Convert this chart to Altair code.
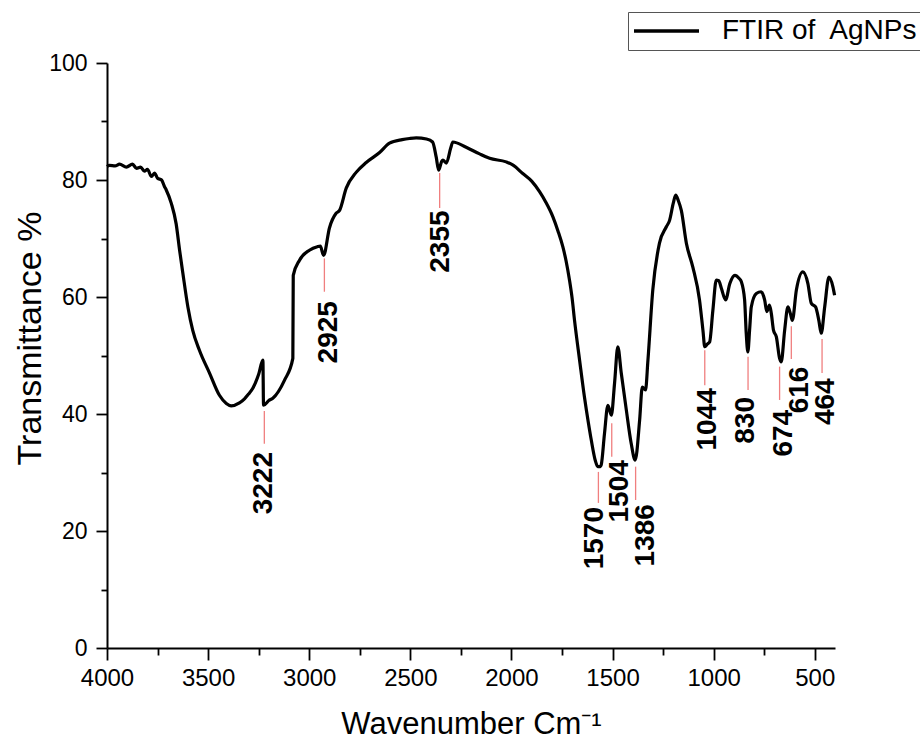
import altair as alt
import pandas as pd

# ---- spectrum ----
wavenumber = [4000, 3988, 3960, 3938, 3904, 3874, 3854, 3834, 3815, 3800, 3780, 3765, 3750, 3730,
              3716, 3707, 3682, 3658, 3641, 3625, 3600, 3576, 3543, 3493, 3444, 3410, 3386, 3345,
              3320, 3300, 3279, 3250, 3229, 3226, 3200, 3180, 3122, 3081, 3079, 3048, 2999, 2960,
              2945, 2929, 2900, 2867, 2850, 2817, 2768, 2718, 2652, 2603, 2540, 2504, 2471, 2420,
              2390, 2372, 2360, 2345, 2339, 2322, 2300, 2290, 2224, 2160, 2108, 2026, 1990, 1944,
              1900, 1861, 1830, 1795, 1770, 1746, 1730, 1713, 1700, 1688, 1663, 1639, 1620, 1605,
              1585, 1573, 1560, 1556, 1540, 1523, 1506, 1490, 1474, 1457, 1432, 1408, 1388, 1366,
              1353, 1337, 1325, 1301, 1268, 1234, 1218, 1200, 1188, 1175, 1160, 1135, 1103, 1070,
              1053, 1044, 1030, 1020, 1004, 987, 975, 962, 941, 920, 895, 875, 863, 847, 839, 831,
              822, 814, 789, 765, 748, 737, 724, 715, 704, 690, 674, 666, 649, 633, 621, 611, 591,
              559, 534, 517, 496, 480, 468, 451, 430, 410, 402]
transmittance = [82.3, 82.5, 82.4, 82.7, 82.2, 82.7, 82.0, 82.2, 81.5, 81.8, 80.6, 81.2, 80.3, 80.0,
                 78.9, 78.3, 76.0, 72.5, 68.0, 64.1, 58.3, 54.3, 50.9, 47.0, 43.2, 41.8, 41.4, 41.9,
                 42.6, 43.4, 44.4, 46.8, 49.2, 41.5, 42.3, 42.7, 45.8, 49.5, 63.7, 66.3, 68.0, 68.6,
                 68.7, 67.1, 71.8, 74.3, 74.8, 78.6, 81.3, 83.0, 84.7, 86.3, 86.9, 87.1, 87.2, 87.0,
                 86.5, 83.9, 81.7, 83.2, 83.4, 82.9, 85.5, 86.5, 85.6, 84.5, 83.7, 83.1, 82.5, 81.1,
                 79.8, 78.0, 76.2, 73.7, 71.3, 68.6, 66.2, 62.9, 59.8, 56.0, 49.2, 42.9, 38.6, 35.5,
                 32.0, 31.0, 31.0, 31.3, 36.6, 41.5, 39.8, 45.3, 51.5, 47.0, 40.7, 35.0, 32.1, 39.0,
                 44.6, 44.1, 49.2, 61.2, 69.2, 72.0, 73.1, 76.0, 77.4, 76.5, 74.8, 69.2, 65.1, 59.5,
                 54.3, 51.5, 52.0, 52.3, 57.7, 62.9, 62.8, 61.5, 59.5, 62.3, 63.7, 63.2, 62.6, 59.5, 53.8, 50.6,
                 54.5, 58.3, 60.6, 60.9, 59.5, 57.5, 58.6, 57.2, 54.3, 53.2, 49.5, 48.9, 54.3, 58.3, 57.2, 56.0, 61.2,
                 64.3, 62.3, 58.9, 58.3, 56.0, 53.8, 58.3, 63.4, 61.7, 60.3]
series_name = "FTIR of\u00a0 AgNPs"

# ---- peak annotations ----
peak_labels = ["3222", "2925", "2355", "1570", "1504", "1386", "1044", "830", "674", "616", "464"]
peak_wn = [3222, 2925, 2355, 1570, 1504, 1386, 1044, 830, 674, 616, 464]
marker_top = [40.5, 66.6, 81.2, 30.1, 38.4, 31.0, 50.9, 49.8, 48.1, 55.0, 52.8]
marker_bottom = [34.9, 60.9, 75.2, 24.8, 32.7, 25.3, 44.9, 44.1, 42.4, 49.4, 47.0]
label_wn = [3222, 2903, 2347, 1589, 1465, 1333, 1028, 839, 650, 575, 443]
label_top = [33.5, 59.3, 74.8, 24.1, 32.1, 24.6, 44.4, 42.9, 40.7, 48.1, 46.1]

# ---- axis ticks ----
x_tick_values = list(range(4000, 499, -250))
y_tick_values = list(range(0, 101, 10))

spectrum = pd.DataFrame({"wn": wavenumber, "T": transmittance, "series": series_name})
peaks = pd.DataFrame({"wn": peak_wn, "top": marker_top, "bottom": marker_bottom,
                      "lx": label_wn, "ly": label_top, "label": peak_labels})

FONT = "Liberation Sans"
xscale = alt.Scale(domain=[4000, 400], nice=False, zero=False)
yscale = alt.Scale(domain=[0, 100], nice=False, zero=False)

x_axis = alt.Axis(
    values=x_tick_values, format="d",
    labelExpr="datum.value % 500 == 0 ? datum.label : ''",
    tickSize={"condition": {"test": "datum.value % 500 == 0", "value": 12}, "value": 7},
    labelFlush=False, labelOverlap=False, grid=False,
    labelFont=FONT, labelFontSize=24, labelColor="black", labelPadding=6,
    domainColor="black", domainWidth=2, tickColor="black", tickWidth=1.8,
    title="Wavenumber Cm\u207b\u00b9", titleFont=FONT, titleFontSize=31, titleFontWeight="normal",
    titleColor="black", titleX=364, titleY=85, titleBaseline="alphabetic", titleAlign="center",
)
y_axis = alt.Axis(
    values=y_tick_values, format="d",
    labelExpr="datum.value % 20 == 0 ? datum.label : ''",
    tickSize={"condition": {"test": "datum.value % 20 == 0", "value": 11}, "value": 6},
    labelOverlap=False, grid=False,
    labelFont=FONT, labelFontSize=23, labelColor="black", labelPadding=9,
    domainColor="black", domainWidth=2, tickColor="black", tickWidth=1.8,
    title="Transmittance %", titleFont=FONT, titleFontSize=34, titleFontWeight="normal",
    titleColor="black", titleX=-67, titleY=275, titleBaseline="alphabetic", titleAlign="center",
    titleAngle=270,
)

line = alt.Chart(spectrum).mark_line(strokeWidth=3.2, strokeJoin="round",
                                     interpolate="monotone").encode(
    x=alt.X("wn:Q", scale=xscale, axis=x_axis),
    y=alt.Y("T:Q", scale=yscale, axis=y_axis),
    color=alt.Color("series:N",
                    scale=alt.Scale(domain=[series_name], range=["black"]),
                    legend=alt.Legend(orient="none", legendX=521, legendY=-51, title=None,
                                      symbolType="stroke", symbolSize=4225, symbolStrokeWidth=3.5,
                                      symbolStrokeColor="black", clipHeight=30,
                                      labelFont=FONT, labelFontSize=28, labelColor="black",
                                      labelLimit=400, labelOffset=21,
                                      strokeColor="#555555", padding=4)),
)

rules = alt.Chart(peaks).mark_rule(color="#f07f7f", strokeWidth=1.3).encode(
    x=alt.X("wn:Q", scale=xscale),
    y=alt.Y("top:Q", scale=yscale),
    y2="bottom:Q",
)

labels = alt.Chart(peaks).mark_text(
    angle=270, align="right", baseline="middle", font=FONT, fontSize=28,
    fontWeight="bold", color="black",
).encode(
    x=alt.X("lx:Q", scale=xscale),
    y=alt.Y("ly:Q", scale=yscale),
    text="label:N",
)

chart = alt.layer(line, rules, labels).properties(
    width=728, height=585,
    autosize=alt.AutoSizeParams(type="none"),
    padding={"left": 107, "top": 63, "right": 85, "bottom": 94},
    background="white",
).configure_view(stroke=None)

chart.save("out.html", embed_options={"renderer": "svg", "actions": False})
